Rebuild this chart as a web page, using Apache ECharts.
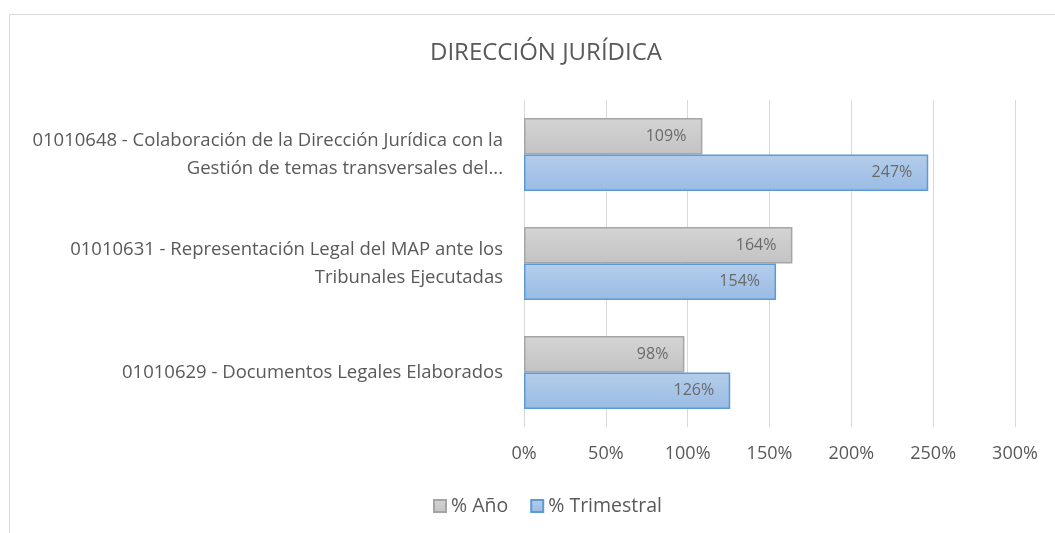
<!DOCTYPE html>
<html>
<head>
<meta charset="utf-8">
<script src="https://cdn.jsdelivr.net/npm/echarts@6/dist/echarts.min.js"></script>
<style>
  html, body { margin: 0; padding: 0; background: #fff; }
  #chart { width: 1055px; height: 533px; }
</style>
</head>
<body>
<div id="chart"></div>
<script>
// categories bottom -> top (ECharts category y axis grows upward)
var categories = [
    '01010629 - Documentos Legales Elaborados',
    '01010631 - Representación Legal del MAP ante los\nTribunales Ejecutadas',
    '01010648 - Colaboración de la Dirección Jurídica con la\nGestión de temas transversales del...'
];
var anio = [98, 164, 109];
var trimestral = [126, 154, 247];
var xTicks = [0, 50, 100, 150, 200, 250, 300];

var txt = '#595959';
var font = '"Open Sans", sans-serif';

var chart = echarts.init(document.getElementById('chart'));
chart.setOption({
    backgroundColor: '#fff',
    textStyle: { fontFamily: font },
    title: {
        text: 'DIRECCIÓN JURÍDICA',
        left: 541, top: 36, textAlign: 'center',
        textStyle: { color: txt, fontSize: 24, fontWeight: 'normal', fontFamily: font }
    },
    graphic: [{
        type: 'rect',
        shape: { x: 9.5, y: 14.5, width: 1200, height: 700 },
        style: { fill: 'none', stroke: '#d9d9d9', lineWidth: 1 },
        silent: true
    }],
    legend: {
        data: ['% Año', '% Trimestral'],
        bottom: 12, left: 428,
        itemWidth: 12, itemHeight: 12, itemGap: 22,
        icon: 'rect',
        textStyle: { color: txt, fontSize: 19.5, fontFamily: font }
    },
    grid: { left: 524, right: 40, top: 100, bottom: 106 },
    xAxis: {
        type: 'value', min: 0, max: xTicks[xTicks.length - 1], interval: 50,
        axisLine: { show: false }, axisTick: { show: false },
        splitLine: { lineStyle: { color: '#d9d9d9' } },
        axisLabel: { color: txt, fontSize: 18, margin: 18, formatter: '{value}%', fontFamily: font }
    },
    yAxis: {
        type: 'category', data: categories,
        axisLine: { show: false }, axisTick: { show: false },
        axisLabel: { color: txt, fontSize: 18.5, margin: 21, lineHeight: 28, align: 'right', fontFamily: font }
    },
    series: [{
        name: '% Año', type: 'bar', data: anio,
        barCategoryGap: '33%', barGap: '0%',
        itemStyle: {
            color: new echarts.graphic.LinearGradient(0, 0, 0, 1, [
                { offset: 0, color: '#d4d4d4' }, { offset: 1, color: '#c3c3c3' }
            ]),
            borderColor: '#a5a5a5', borderWidth: 1.5
        },
        label: { show: true, position: 'insideRight', distance: 16, color: '#6a6a6a', fontSize: 16, formatter: '{c}%' }
    }, {
        name: '% Trimestral', type: 'bar', data: trimestral,
        barCategoryGap: '33%', barGap: '0%',
        itemStyle: {
            color: new echarts.graphic.LinearGradient(0, 0, 0, 1, [
                { offset: 0, color: '#b4cdeb' }, { offset: 1, color: '#9abbe4' }
            ]),
            borderColor: '#5b9bd5', borderWidth: 1.5
        },
        label: { show: true, position: 'insideRight', distance: 16, color: '#6a6a6a', fontSize: 16, formatter: '{c}%' }
    }]
});
</script>
</body>
</html>
